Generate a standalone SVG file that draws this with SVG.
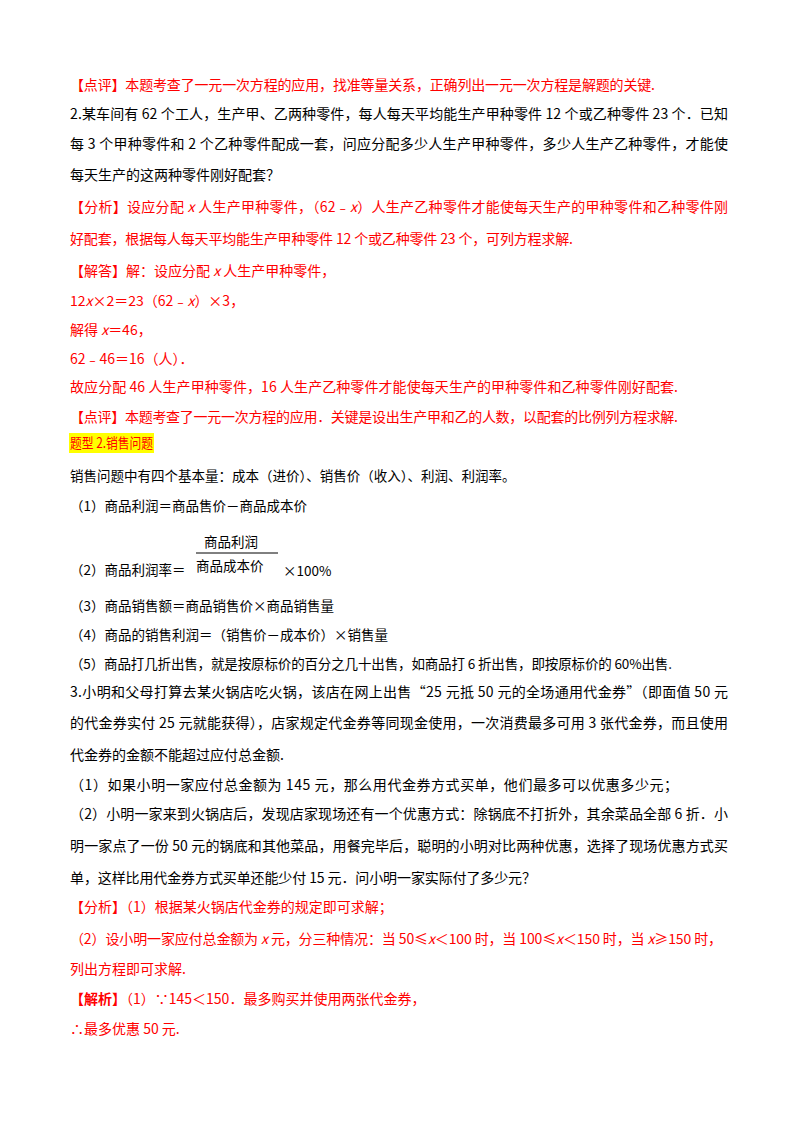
<svg xmlns="http://www.w3.org/2000/svg" width="800" height="1132" viewBox="0 0 800 1132">
<style>
text{font-family:"Noto Sans CJK SC","Liberation Sans",sans-serif;font-size:14px;fill:#000}
.r{fill:#ff0000}
.s{font-family:"Noto Sans CJK SC","Liberation Serif",serif;font-size:13.5px}
.b{font-weight:bold}
</style>
<rect width="800" height="1132" fill="#fff"/>
<text x="70" y="90" class="r" textLength="585">【点评】本题考查了一元一次方程的应用，找准等量关系，正确列出一元一次方程是解题的关键.</text>
<text x="70" y="119" textLength="658">2.某车间有 62 个工人，生产甲、乙两种零件，每人每天平均能生产甲种零件 12 个或乙种零件 23 个．已知</text>
<text x="70" y="149" textLength="658">每 3 个甲种零件和 2 个乙种零件配成一套，问应分配多少人生产甲种零件，多少人生产乙种零件，才能使</text>
<text x="70" y="180">每天生产的这两种零件刚好配套？</text>
<text x="70" y="212" class="r" textLength="658">【分析】设应分配 <tspan font-style="italic">x</tspan> 人生产甲种零件，（62﹣<tspan font-style="italic">x</tspan>）人生产乙种零件才能使每天生产的甲种零件和乙种零件刚</text>
<text x="70" y="244" class="r" textLength="503">好配套，根据每人每天平均能生产甲种零件 12 个或乙种零件 23 个，可列方程求解.</text>
<text x="70" y="276" class="r">【解答】解：设应分配 <tspan font-style="italic">x</tspan> 人生产甲种零件，</text>
<text x="70" y="306" class="r">12<tspan font-style="italic">x</tspan>×2＝23（62﹣<tspan font-style="italic">x</tspan>）×3，</text>
<text x="70" y="335" class="r">解得 <tspan font-style="italic">x</tspan>＝46，</text>
<text x="70" y="364" class="r">62﹣46＝16（人）．</text>
<text x="70" y="392" class="r" textLength="608">故应分配 46 人生产甲种零件，16 人生产乙种零件才能使每天生产的甲种零件和乙种零件刚好配套.</text>
<text x="70" y="422" class="r" textLength="608">【点评】本题考查了一元一次方程的应用．关键是设出生产甲和乙的人数，以配套的比例列方程求解.</text>
<rect x="69" y="433" width="85" height="20" fill="#ffff00"/>
<text x="70" y="448" fill="#ff0000" style="fill:#ff0000" textLength="83" lengthAdjust="spacingAndGlyphs">题型 2.销售问题</text>
<text x="70" y="481" class="s">销售问题中有四个基本量：成本（进价）、销售价（收入）、利润、利润率。</text>
<text x="70" y="511" class="s">（1）商品利润＝商品售价－商品成本价</text>
<text x="204" y="547" class="s" font-size="16">商品利润</text>
<line x1="196" y1="553" x2="278" y2="553" stroke="#000" stroke-width="1"/>
<text x="70" y="575" class="s">（2）商品利润率＝</text>
<text x="196" y="571" class="s" font-size="16">商品成本价</text>
<text x="283" y="576" class="s" font-size="12">×100%</text>
<text x="70" y="611" class="s">（3）商品销售额＝商品销售价×商品销售量</text>
<text x="70" y="640" class="s">（4）商品的销售利润＝（销售价－成本价）×销售量</text>
<text x="70" y="669" class="s" textLength="602">（5）商品打几折出售，就是按原标价的百分之几十出售，如商品打 6 折出售，即按原标价的 60%出售.</text>
<text x="70" y="697" textLength="658">3.小明和父母打算去某火锅店吃火锅，该店在网上出售“25 元抵 50 元的全场通用代金券”（即面值 50 元</text>
<text x="70" y="728" textLength="658">的代金券实付 25 元就能获得），店家规定代金券等同现金使用，一次消费最多可用 3 张代金券，而且使用</text>
<text x="70" y="760">代金券的金额不能超过应付总金额.</text>
<text x="70" y="790" textLength="608">（1）如果小明一家应付总金额为 145 元，那么用代金券方式买单，他们最多可以优惠多少元；</text>
<text x="70" y="819" textLength="658">（2）小明一家来到火锅店后，发现店家现场还有一个优惠方式：除锅底不打折外，其余菜品全部 6 折．小</text>
<text x="70" y="851" textLength="658">明一家点了一份 50 元的锅底和其他菜品，用餐完毕后，聪明的小明对比两种优惠，选择了现场优惠方式买</text>
<text x="70" y="883" textLength="466">单，这样比用代金券方式买单还能少付 15 元．问小明一家实际付了多少元？</text>
<text x="70" y="912" class="r">【分析】（1）根据某火锅店代金券的规定即可求解；</text>
<text x="70" y="944" class="r" textLength="652">（2）设小明一家应付总金额为 <tspan font-style="italic">x</tspan> 元，分三种情况：当 50≤<tspan font-style="italic">x</tspan>＜100 时，当 100≤<tspan font-style="italic">x</tspan>＜150 时，当 <tspan font-style="italic">x</tspan>≥150 时，</text>
<text x="70" y="974" class="r">列出方程即可求解.</text>
<text x="70" y="1004" class="r"><tspan class="b">【解析】</tspan>（1）∵145＜150．最多购买并使用两张代金券，</text>
<text x="70" y="1034" class="r">∴最多优惠 50 元.</text>
</svg>
